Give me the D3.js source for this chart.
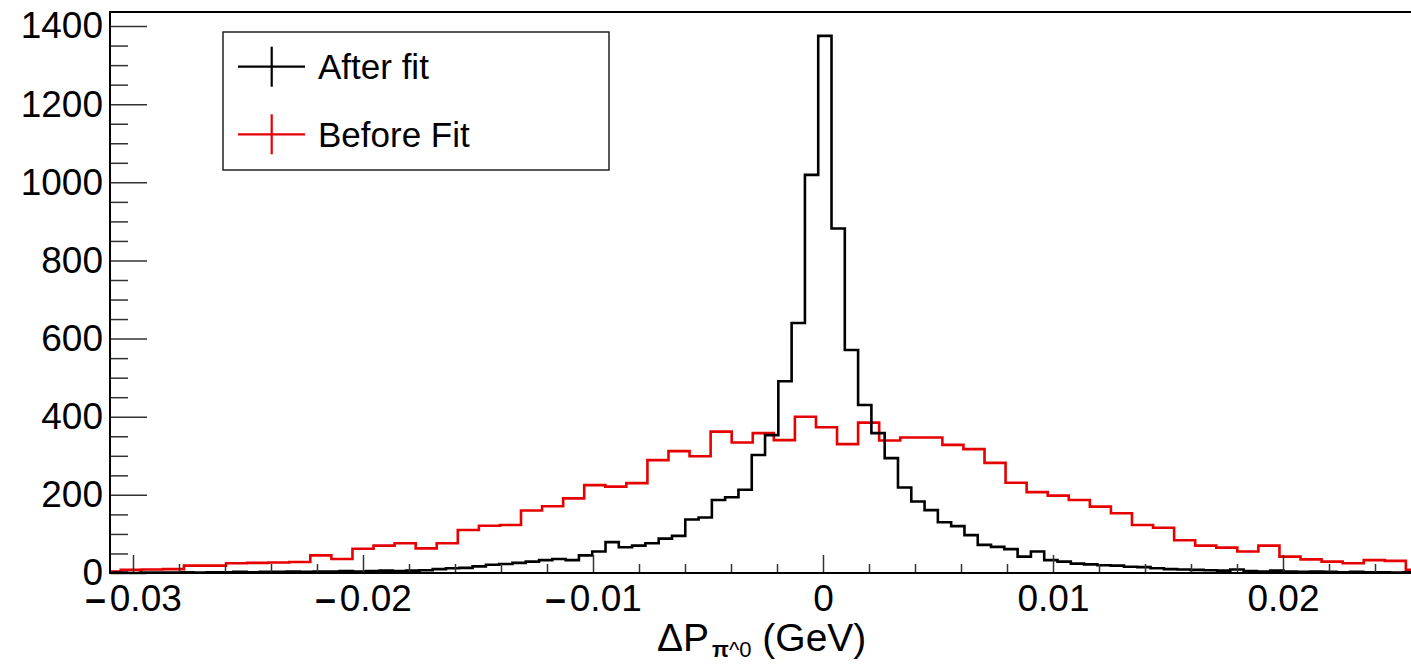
<!DOCTYPE html>
<html>
<head>
<meta charset="utf-8">
<script src="https://cdn.jsdelivr.net/npm/d3@7"></script>
<style>
  body { margin: 0; background: #fff; }
  svg text { font-family: "Liberation Sans", Arial, Helvetica, sans-serif; fill: #000; }
</style>
</head>
<body>
<div id="chart"></div>
<script>
// After fit (black), counts per bin
const afterFitCounts = [
  0, 1, 0, 1, 1, 1, 2, 1, 2, 2, 3, 2, 3, 3, 4, 3, 4, 4, 5, 4, 5, 6, 5,
  6, 7, 10, 12, 13, 17, 21, 23, 26, 29, 33, 36, 33, 45, 55, 79, 66,
  70, 76, 88, 95, 137, 142, 187, 194, 213, 302, 353, 491, 640, 1019, 1375, 882, 571, 430, 358, 294,
  219, 183, 161, 130, 120, 97, 72, 67, 61, 42, 55, 33, 29, 24, 22, 20, 19, 16, 15,
  12, 10, 9, 8, 7, 6, 9, 5, 4, 6, 4, 3, 4, 3, 2, 3, 2, 2, 1, 2
];
// Before fit (red), counts per bin
const beforeFitCounts = [
  4, 8, 9, 10, 19, 19, 25, 26, 27, 28, 45, 36, 62,
  70, 76, 63, 76, 110, 121, 123, 160, 171, 191, 225, 221, 230,
  289, 312, 299, 362, 334, 358, 340, 400, 373, 330, 385, 339,
  347, 347, 328, 317, 282, 231, 207, 198, 187, 170, 153, 123, 116,
  84, 70, 65, 55, 70, 42, 35, 29, 25, 33, 31, 8
];
const afterFitLo = -0.03142, afterFitBin = 0.000578;
const beforeFitLo = -0.03145, beforeFitBin = 0.000916;

const xMajorTicks = [-0.03, -0.02, -0.01, 0, 0.01, 0.02];
const xTickLabels = ["-0.03", "-0.02", "-0.01", "0", "0.01", "0.02"];
const yMajorTicks = [0, 200, 400, 600, 800, 1000, 1200, 1400];
const yTickLabels = ["0", "200", "400", "600", "800", "1000", "1200", "1400"];
const seriesNames = ["After fit", "Before Fit"];
const seriesColors = ["#000000", "#e60000"];

const width = 1411;
const height = 666;
const frame = { left: 110, top: 12, bottom: 573, right: 1411 };

const svg = d3.select("#chart")
  .append("svg")
  .attr("width", width)
  .attr("height", height);

const x = d3.scaleLinear().domain([-0.031, 0.0256]).range([frame.left, 1411.8]);
const y = d3.scaleLinear().domain([0, 1436]).range([frame.bottom, frame.top]);

svg.append("defs").append("clipPath").attr("id", "plotclip")
  .append("rect")
  .attr("x", frame.left).attr("y", 0)
  .attr("width", frame.right - frame.left).attr("height", frame.bottom);

// step outline of a histogram
function stepPoints(counts, lo, bin) {
  const pts = [[lo, 0]];
  counts.forEach((c, i) => {
    pts.push([lo + i * bin, c]);
    pts.push([lo + (i + 1) * bin, c]);
  });
  pts.push([lo + counts.length * bin, 0]);
  return pts;
}

const line = d3.line().x(d => x(d[0])).y(d => y(d[1]));

const hists = svg.append("g").attr("clip-path", "url(#plotclip)");
hists.append("path")
  .datum(stepPoints(beforeFitCounts, beforeFitLo, beforeFitBin))
  .attr("d", line)
  .attr("fill", "none")
  .attr("stroke", seriesColors[1])
  .attr("stroke-width", 2.6);
hists.append("path")
  .datum(stepPoints(afterFitCounts, afterFitLo, afterFitBin))
  .attr("d", line)
  .attr("fill", "none")
  .attr("stroke", seriesColors[0])
  .attr("stroke-width", 2.6);

// y axis, ticks pointing inward
const yMinor = d3.range(0, 1401, 50).filter(v => v % 200 !== 0);
svg.append("g")
  .attr("transform", `translate(${frame.left},0)`)
  .call(d3.axisLeft(y).tickValues(yMinor).tickSize(-18).tickFormat(""))
  .call(g => g.select(".domain").remove());
const yAxis = svg.append("g")
  .attr("transform", `translate(${frame.left},0)`)
  .call(d3.axisLeft(y).tickValues(yMajorTicks).tickSize(-37).tickPadding(7)
    .tickFormat(d => yTickLabels[yMajorTicks.indexOf(d)]))
  .call(g => g.select(".domain").remove());
yAxis.selectAll("text").attr("font-size", 37).attr("font-family", null);

// x axis
const xMinor = d3.range(-15, 13).filter(i => i % 5 !== 0).map(i => i * 0.002);
svg.append("g")
  .attr("transform", `translate(0,${frame.bottom})`)
  .call(d3.axisBottom(x).tickValues(xMinor).tickSize(-9).tickFormat(""))
  .call(g => g.select(".domain").remove());
const xAxis = svg.append("g")
  .attr("transform", `translate(0,${frame.bottom})`)
  .call(d3.axisBottom(x).tickValues(xMajorTicks).tickSize(-18).tickPadding(12)
    .tickFormat(d => xTickLabels[xMajorTicks.indexOf(d)]))
  .call(g => g.select(".domain").remove());
xAxis.selectAll("text").attr("font-size", 37).attr("font-family", null)
  .each(function(d) {
    const s = xTickLabels[xMajorTicks.indexOf(d)];
    if (s[0] === "-") {
      const t = d3.select(this).text(null);
      t.append("tspan").attr("font-weight", "bold").text("\u2013");
      t.append("tspan").attr("dx", 4).text(s.slice(1));
    }
  });

svg.selectAll(".tick line").attr("stroke", "#333").attr("stroke-width", 1.5);

// frame
svg.append("path")
  .attr("d", `M${frame.right},${frame.top}H${frame.left}V${frame.bottom}H${frame.right}`)
  .attr("fill", "none")
  .attr("stroke", "#000")
  .attr("stroke-width", 2);

// axis title
const title = svg.append("text")
  .attr("x", 657)
  .attr("y", 651)
  .attr("font-size", 39);
title.append("tspan").text("\u0394P");
title.append("tspan").attr("font-size", 22).attr("dy", 6).attr("dx", 3)
  .attr("font-weight", "bold").text("\u03c0");
title.append("tspan").attr("font-size", 22).text("^0");
title.append("tspan").attr("dy", -6).text(" (GeV)");

// legend
const legend = svg.append("g");
legend.append("rect")
  .attr("x", 223).attr("y", 32)
  .attr("width", 386).attr("height", 138)
  .attr("fill", "#fff")
  .attr("stroke", "#222")
  .attr("stroke-width", 1.5);
const rows = [66.7, 134.3];
seriesNames.forEach((name, i) => {
  const ry = rows[i];
  legend.append("line")
    .attr("x1", 238).attr("x2", 305).attr("y1", ry).attr("y2", ry)
    .attr("stroke", seriesColors[i]).attr("stroke-width", 2.2);
  legend.append("line")
    .attr("x1", 271.7).attr("x2", 271.7).attr("y1", ry - 20).attr("y2", ry + 20)
    .attr("stroke", seriesColors[i]).attr("stroke-width", 2.2);
  legend.append("text")
    .attr("x", 318).attr("y", ry + 12.6)
    .attr("font-size", 35)
    .text(name);
});
</script>
</body>
</html>
